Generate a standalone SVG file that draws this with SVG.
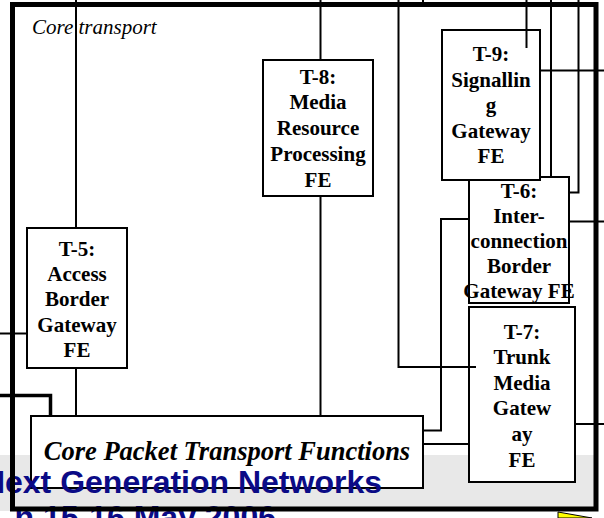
<svg xmlns="http://www.w3.org/2000/svg" width="604" height="518" viewBox="0 0 604 518">
<style>
.box{fill:#fff;stroke:#000;stroke-width:2}
.lbl{font-family:"Liberation Serif","Times New Roman",serif;font-weight:bold;font-size:21px;text-anchor:middle;fill:#000}
.ln{fill:none;stroke:#000;stroke-width:2}
.thick{fill:none;stroke:#000;stroke-width:3.5}
.blue{font-family:"Liberation Sans",Arial,sans-serif;font-weight:bold;font-size:32px;fill:#0b0b86;text-anchor:end}
</style>
<rect x="0" y="0" width="604" height="518" fill="#fff"/>
<rect x="0" y="455" width="597" height="56" fill="#e8e8e8"/>
<text x="32" y="33.5" font-family="'Liberation Serif','Times New Roman',serif" font-style="italic" font-size="21">Core transport</text>

<g id="T-5">
<rect class="box" x="27" y="228" width="100" height="140"/>
<text class="lbl" x="77"><tspan x="77" y="255.5">T-5:</tspan><tspan x="77" y="281">Access</tspan><tspan x="77" y="306.3">Border</tspan><tspan x="77" y="331.7">Gateway</tspan><tspan x="77" y="357">FE</tspan></text>
</g>
<g id="T-8">
<rect class="box" x="263" y="60" width="110" height="136"/>
<text class="lbl" x="318"><tspan x="318" y="83.5">T-8:</tspan><tspan x="318" y="109.3">Media</tspan><tspan x="318" y="135.1">Resource</tspan><tspan x="318" y="160.9">Processing</tspan><tspan x="318" y="186.7">FE</tspan></text>
</g>
<g id="T-6">
<rect class="box" x="469" y="177" width="100" height="126"/>
<text class="lbl" x="519"><tspan x="519" y="197.5">T-6:</tspan><tspan x="519" y="222.6">Inter-</tspan><tspan x="519" y="247.7">connection</tspan><tspan x="519" y="272.8">Border</tspan><tspan x="519" y="297.9">Gateway FE</tspan></text>
</g>
<g id="T-9">
<rect class="box" x="442" y="30" width="98" height="150"/>
<text class="lbl" x="491"><tspan x="491" y="61">T-9:</tspan><tspan x="491" y="86.6">Signallin</tspan><tspan x="491" y="112.2">g</tspan><tspan x="491" y="137.8">Gateway</tspan><tspan x="491" y="163.4">FE</tspan></text>
</g>
<g id="T-7">
<rect class="box" x="469" y="307" width="106" height="175"/>
<text class="lbl" x="522"><tspan x="522" y="338.5">T-7:</tspan><tspan x="522" y="364.1">Trunk</tspan><tspan x="522" y="389.7">Media</tspan><tspan x="522" y="415.3">Gatew</tspan><tspan x="522" y="440.9">ay</tspan><tspan x="522" y="466.5">FE</tspan></text>
</g>
<g id="core-packet">
<rect class="box" x="31" y="416" width="392" height="72"/>
<text x="227" y="460" text-anchor="middle" font-family="'Liberation Serif','Times New Roman',serif" font-style="italic" font-weight="bold" font-size="26.5">Core Packet Transport Functions</text>
</g>

<g id="connectors">
<path class="ln" d="M76,0 V228"/>
<path class="ln" d="M76,368 V416"/>
<path class="ln" d="M0,333.5 H27"/>
<path class="thick" d="M0,395.5 H50.5 V416"/>
<path class="ln" d="M320.5,0 V60"/>
<path class="ln" d="M320.5,196 V416"/>
<path class="ln" d="M398.5,0 V367 H476"/>
<path class="ln" d="M469,219 H441 V430.5 H423"/>
<path class="ln" d="M423,444 H469"/>
<path class="ln" d="M526.5,0 V48"/>
<path class="ln" d="M540,70.5 H604"/>
<path class="ln" d="M551,0 V177"/>
<path class="ln" d="M578.5,0 V192.5 H569"/>
<path class="ln" d="M569,221.5 H604"/>
<path class="ln" d="M575,424 H604"/>
<path class="ln" d="M423,0 V3"/>
</g>

<text class="blue" x="382" y="493">Next Generation Networks</text>
<text class="blue" x="276" y="528">n 15-16 May 2006</text>

<rect x="12.5" y="4.5" width="583.5" height="504.5" fill="none" stroke="#000" stroke-width="5"/>
<polygon points="558,512 592,518 558,518" fill="#ffff00" stroke="#000" stroke-width="1"/>
</svg>
